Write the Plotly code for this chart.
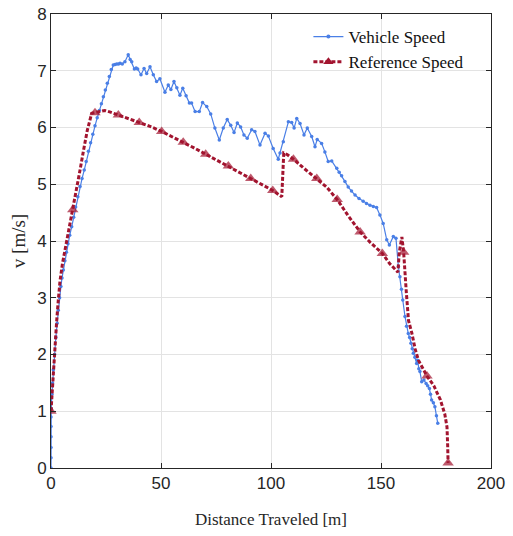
import plotly.graph_objects as go

# Vehicle speed (traced)
veh_x = [0, 0, 0, 0, 0, 0, 0.1, 0.4, 0.7, 1.05, 1.6, 2.2, 2.8, 3.3, 3.9, 4.5, 5.0, 5.6, 6.3, 7.0, 7.7, 8.5,
         9.4, 10.3, 11.2, 12.2, 13.2, 14.1, 15.1, 16.0, 17.0, 18.0, 19.0, 20, 21, 22, 22.9, 23.8, 24.7, 25.6,
         26.5, 27.4, 28.3, 29.1, 29.9, 30.7, 31.4, 32.4, 33.6, 35.1, 36.0, 36.7, 37.9, 38.7, 39.4, 40.9, 42.3,
         43.5, 45, 46.5, 48, 49.5, 51.8, 53.3, 54.5, 55.9, 57.2, 58.6, 59.9, 61.4, 62.9, 63.9, 65.5, 67.4,
         68.9, 70.8, 72.6, 74.5, 76.5, 78.3, 80.1, 81.7, 83.2, 84.7, 86.2, 87.7, 89.2, 91.2, 92.7, 95, 97.3,
         98.8, 101, 103.3, 104.1, 105.6, 107.9, 109.4, 110.5, 111.7, 113.2, 115, 116.5, 118.5, 120, 121, 123,
         124.5, 126, 127.6, 129.9, 131, 132.1, 133.6, 135.1, 136.6, 138.2, 140, 141.9, 143.4, 145, 146.5, 148,
         149.5, 151, 152.6, 153.8, 155.6, 156.8, 157.9, 158.6, 159.3, 159.9, 160.9, 161.6, 162.4, 163.0, 163.6,
         164.2, 164.7, 165.4, 166.2, 166.6, 167.2, 167.7, 168.5, 169.5, 170.5, 171.2, 172, 172.5, 173, 173.8,
         174.5, 175.2, 175.8]
veh_y = [0, 0.18, 0.36, 0.55, 0.73, 0.9, 1.05, 1.3, 1.5, 1.73, 2.0, 2.3, 2.55, 2.78, 3.0, 3.2, 3.35, 3.49, 3.65,
         3.8, 3.95, 4.1, 4.25, 4.42, 4.6, 4.78, 4.96, 5.1, 5.25, 5.4, 5.58, 5.73, 5.88, 6.03, 6.17, 6.3, 6.42,
         6.54, 6.66, 6.78, 6.9, 7.02, 7.1, 7.11, 7.12, 7.12, 7.13, 7.12, 7.16, 7.28, 7.2, 7.16, 7.03, 7.05, 7.03,
         6.93, 7.04, 6.95, 7.07, 6.93, 6.81, 6.86, 6.62, 6.75, 6.67, 6.81, 6.7, 6.57, 6.69, 6.56, 6.43, 6.43,
         6.28, 6.28, 6.44, 6.37, 6.24, 5.99, 5.78, 5.99, 6.14, 6.04, 5.91, 6.08, 6.01, 5.87, 5.81, 5.96, 5.93,
         5.69, 5.9, 5.85, 5.63, 5.44, 5.55, 5.75, 6.1, 6.09, 5.99, 6.16, 6.07, 5.87, 5.99, 5.84, 5.66, 5.79,
         5.72, 5.57, 5.4, 5.41, 5.28, 5.21, 5.15, 5.05, 4.95, 4.88, 4.81, 4.75, 4.7, 4.66, 4.63, 4.61, 4.59,
         4.46, 4.31, 4.02, 3.93, 4.08, 4.05, 3.55, 3.37, 3.15, 2.96, 2.67, 2.5, 2.37, 2.3, 2.2, 2.1, 2.02, 1.95,
         1.84, 1.9, 1.75, 1.7, 1.52, 1.55, 1.49, 1.45, 1.4, 1.3, 1.2, 1.15, 1.08, 0.92, 0.79]

# Reference speed (traced)
ref_x = [0, 0.5, 1.05, 1.8, 2.6, 3.3, 4.1, 5.2, 6.4, 8.1, 9.9, 11.5, 13.2, 14.8, 16.5, 18.5, 20, 22, 24.5, 27,
         30.6, 35, 40.1, 45, 50.3, 55, 60.1, 65, 70.3, 75, 80.6, 85, 90.8, 95, 100.8, 104.9, 105.3, 105.8,
         107.5, 110.2, 115, 120.8, 125.3, 130.1, 135, 140.5, 145, 150.6, 154, 157.7, 158.3, 159.5, 160.3,
         161.5, 162.5, 164, 165.5, 167, 170.9, 174, 177, 179, 180, 180.3, 180.5]
ref_y = [1.0, 1.35, 1.73, 2.2, 2.6, 2.95, 3.3, 3.6, 3.84, 4.2, 4.55, 4.9, 5.25, 5.6, 5.95, 6.25, 6.26, 6.28,
         6.3, 6.27, 6.22, 6.16, 6.09, 6.02, 5.93, 5.84, 5.74, 5.64, 5.53, 5.43, 5.32, 5.22, 5.1, 5.0, 4.89,
         4.78, 5.2, 5.55, 5.52, 5.44, 5.28, 5.1, 4.95, 4.73, 4.45, 4.16, 3.98, 3.78, 3.6, 3.45, 3.8, 4.07,
         3.8, 3.1, 2.6, 2.38, 2.1, 1.9, 1.62, 1.45, 1.2, 0.95, 0.72, 0.4, 0.09]
# x positions where triangle markers are shown
ref_marker_x = [0, 9.9, 20, 30.6, 40.1, 50.3, 60.1, 70.3, 80.6, 90.8, 100.8, 110.2, 120.8, 130.1, 140.5,
                150.6, 160.3, 170.9, 180.5]

x_ticks = [0, 50, 100, 150, 200]
y_ticks = [0, 1, 2, 3, 4, 5, 6, 7, 8]

BLUE = "#4a7fe6"
RED = "#a2142f"
serif = "Liberation Serif, DejaVu Serif, serif"
sans = "Liberation Sans, Arial, sans-serif"
RED_DASH = "4px,2px"

ref_sizes = [10 if x in ref_marker_x else 0 for x in ref_x]

fig = go.Figure()
fig.add_trace(go.Scatter(
    x=veh_x, y=veh_y, mode="lines+markers", name="Vehicle Speed", showlegend=False,
    line=dict(color=BLUE, width=1.2),
    marker=dict(color=BLUE, size=3.5, symbol="circle"),
))
fig.add_trace(go.Scatter(
    x=ref_x, y=ref_y, mode="lines+markers", name="Reference Speed", showlegend=False,
    line=dict(color=RED, width=3, dash=RED_DASH),
    marker=dict(color=RED, size=ref_sizes, symbol="triangle-up", line=dict(width=0)),
))
# legend entries
fig.add_trace(go.Scatter(
    x=[None], y=[None], mode="lines+markers", name="Vehicle Speed",
    line=dict(color=BLUE, width=1.2), marker=dict(color=BLUE, size=4),
))
fig.add_trace(go.Scatter(
    x=[None], y=[None], mode="lines+markers", name="Reference Speed",
    line=dict(color=RED, width=3, dash=RED_DASH),
    marker=dict(color=RED, size=9, symbol="triangle-up", line=dict(width=0)),
))

axis_common = dict(
    showline=True, linecolor="#262626", linewidth=1, mirror="ticks",
    ticks="inside", ticklen=5, tickcolor="#262626",
    showgrid=True, gridcolor="#e3e3e3", gridwidth=1, zeroline=False,
    tickfont=dict(family=sans, size=17, color="#262626"),
    automargin=False,
)

fig.update_xaxes(range=[0, 200], tickvals=x_ticks, ticktext=[str(v) for v in x_ticks],
                 title=dict(text="Distance Traveled [m]", font=dict(family=serif, size=17, color="#262626"),
                            standoff=20),
                 **axis_common)
fig.update_yaxes(range=[0, 8], tickvals=y_ticks, ticktext=[str(v) for v in y_ticks],
                 title=dict(text="v [m/s]", font=dict(family=serif, size=19, color="#262626"), standoff=6),
                 **axis_common)

fig.update_layout(
    width=513, height=536,
    margin=dict(l=51, r=22, t=14, b=68),
    plot_bgcolor="white", paper_bgcolor="white",
    showlegend=True,
    legend=dict(x=0.585, y=0.989, xanchor="left", yanchor="top",
                bgcolor="rgba(255,255,255,0)", borderwidth=0,
                font=dict(family=serif, size=17, color="#111111"),
                tracegroupgap=0),
)

fig.write_html("out.html")
